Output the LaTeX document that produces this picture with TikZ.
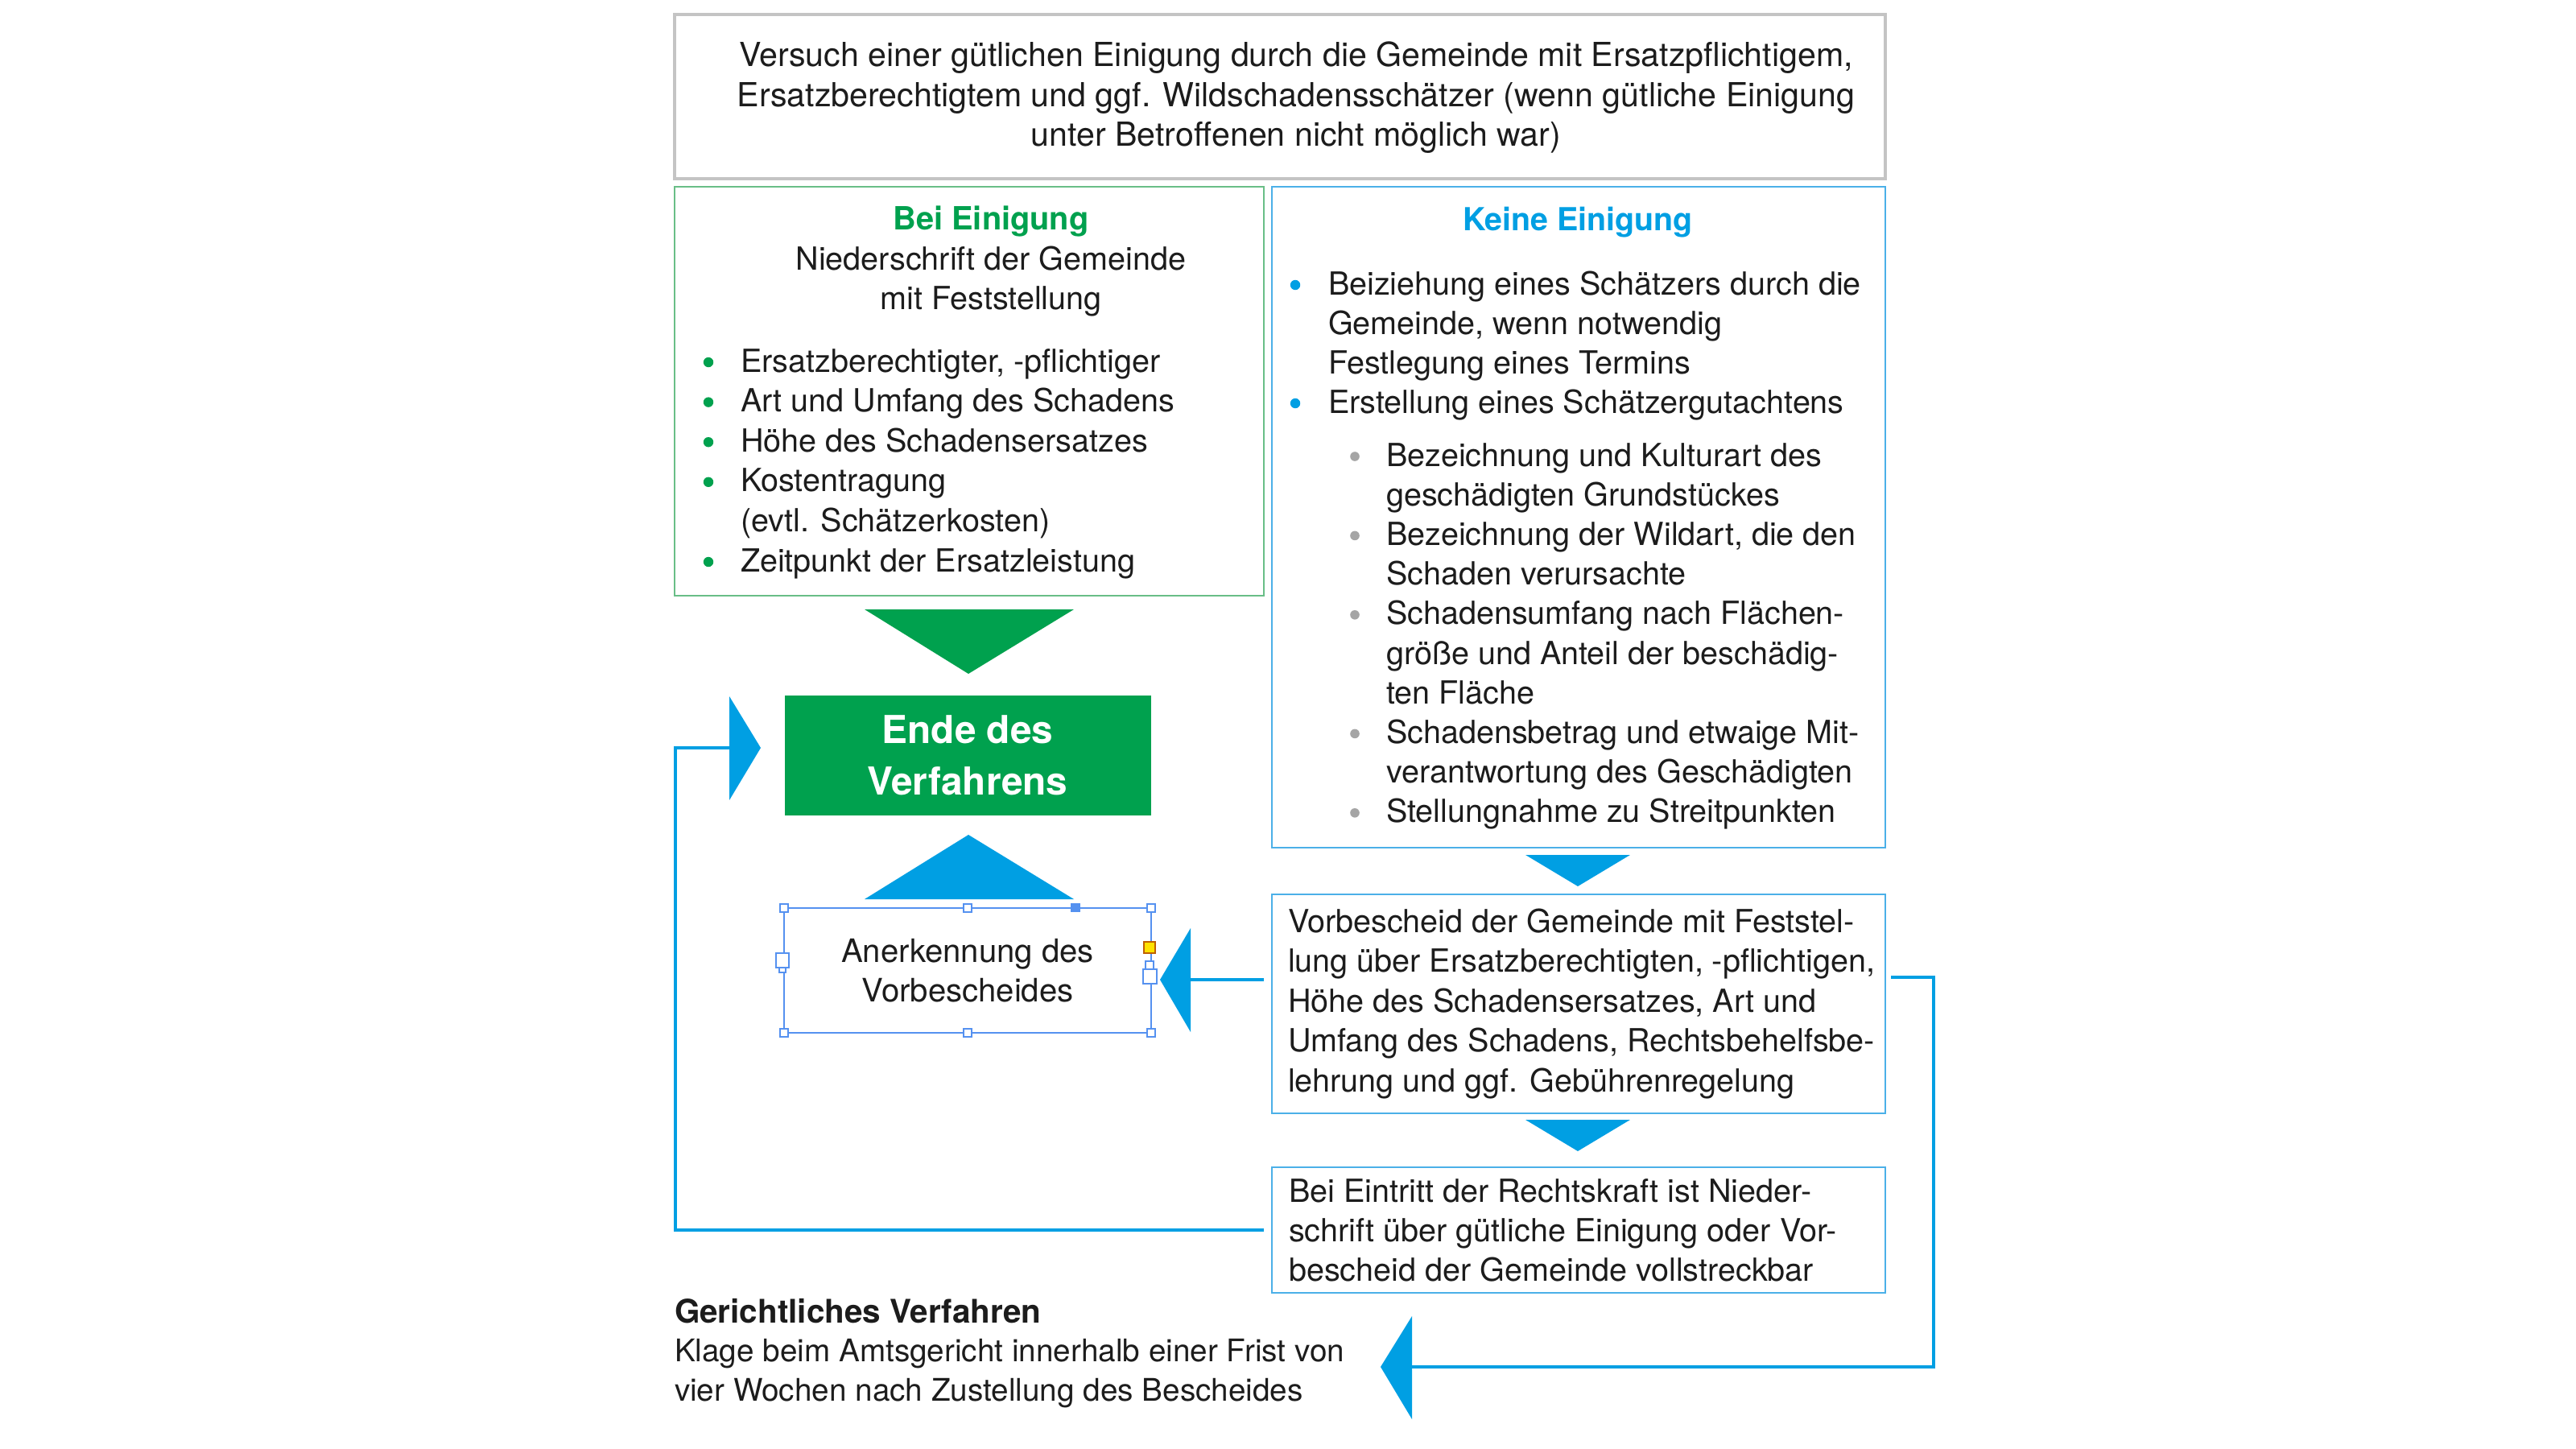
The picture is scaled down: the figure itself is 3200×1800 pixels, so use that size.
\documentclass[tikz,border=0pt]{standalone}
\usepackage{fontspec}
\setmainfont{TeX Gyre Heros}
\usetikzlibrary{fit}
\definecolor{egreen}{RGB}{0,161,78}
\definecolor{eblue}{RGB}{0,159,227}
\definecolor{gborder}{RGB}{105,190,135}
\definecolor{bborder}{RGB}{75,176,232}
\definecolor{grayborder}{RGB}{196,196,196}
\definecolor{bulgray}{RGB}{165,165,165}
\definecolor{textc}{RGB}{28,28,28}
\definecolor{selblue}{RGB}{85,145,240}
\definecolor{handley}{RGB}{255,226,0}
\begin{document}
\begin{tikzpicture}[x=0.01cm,y=-0.01cm,
  txt/.style={font=\fontsize{11.25}{14}\selectfont, text=textc, inner sep=0pt, outer sep=0pt, anchor=base west},
  ctxt/.style={txt, anchor=base},
  toptxt/.style={ctxt, font=\fontsize{11.7}{14}\selectfont},
  gertxt/.style={txt, font=\fontsize{11}{14}\selectfont},
  headg/.style={ctxt, font=\fontsize{11.3}{14}\selectfont\bfseries, text=egreen},
  headb/.style={ctxt, font=\fontsize{11.2}{14}\selectfont\bfseries, text=eblue},
  endetxt/.style={ctxt, font=\fontsize{13.6}{18}\selectfont\bfseries, text=white},
  boxbase/.style={rectangle, inner sep=0pt, outer sep=0pt},
  graybox/.style={boxbase, draw=grayborder, line width=1.1pt},
  greenbox/.style={boxbase, draw=gborder, line width=0.7pt},
  bluebox/.style={boxbase, draw=bborder, line width=0.75pt},
  endebox/.style={boxbase, fill=egreen},
  selbox/.style={boxbase, draw=selblue, line width=0.6pt},
  conn/.style={draw=eblue, line width=1.1pt},
  handle/.style={draw=selblue, fill=white, line width=0.4pt},
  gbul/.style={fill=egreen},
  bbul/.style={fill=eblue},
  sbul/.style={fill=bulgray}]
\useasboundingbox (0,0) rectangle (3200,1800);
\fill[white] (0,0) rectangle (3200,1800);

% ---------- boxes ----------
\node[graybox, fit={(838,18) (2342,222)}] (top) {};
\node[greenbox, fit={(838,232) (1570,740)}] (bei) {};
\node[bluebox, fit={(1580,232) (2342,1053)}] (keine) {};
\node[endebox, fit={(975,864) (1430,1013)}] (ende) {};
\node[selbox, fit={(974,1128) (1430,1283)}] (anerk) {};
\node[bluebox, fit={(1580,1111) (2342,1383)}] (vorb) {};
\node[bluebox, fit={(1580,1450) (2342,1606)}] (eintr) {};

% ---------- top text ----------
\foreach \t [count=\i from 0] in
  {{Versuch einer gütlichen Einigung durch die Gemeinde mit Ersatzpflichtigem,},
   {Ersatzberechtigtem und ggf. Wildschadensschätzer (wenn gütliche Einigung},
   {unter Betroffenen nicht möglich war)}}
  \node[toptxt] (top\i) at (1610,{83+49.2*\i}) {\t};

% ---------- Bei Einigung ----------
\node[headg] (beihead) at (1231,285) {Bei Einigung};
\node[ctxt] (beisub1) at (1231,335) {Niederschrift der Gemeinde};
\node[ctxt] (beisub2) at (1231,384) {mit Feststellung};
\foreach \t [count=\i from 0] in
  {{Ersatzberechtigter, -pflichtiger},
   {Art und Umfang des Schadens},
   {Höhe des Schadensersatzes},
   {Kostentragung},
   {(evtl. Schätzerkosten)},
   {Zeitpunkt der Ersatzleistung}}
  \node[txt] (beil\i) at (920,{462+49.6*\i}) {\t};
\foreach \i in {0,1,2,3,5}
  \fill[gbul] (880,{450+49.6*\i}) circle[radius=0.62mm];

% ---------- Keine Einigung ----------
\node[headb] (keinehead) at (1960,286) {Keine Einigung};
\foreach \t [count=\i from 0] in
  {{Beiziehung eines Schätzers durch die},
   {Gemeinde, wenn notwendig},
   {Festlegung eines Termins},
   {Erstellung eines Schätzergutachtens}}
  \node[txt] (keinel\i) at (1650,{366+49*\i}) {\t};
\foreach \i in {0,3}
  \fill[bbul] (1609,{354+49*\i}) circle[radius=0.62mm];
\foreach \t [count=\i from 0] in
  {{Bezeichnung und Kulturart des},
   {geschädigten Grundstückes},
   {Bezeichnung der Wildart, die den},
   {Schaden verursachte},
   {Schadensumfang nach Flächen-},
   {größe und Anteil der beschädig-},
   {ten Fläche},
   {Schadensbetrag und etwaige Mit-},
   {verantwortung des Geschädigten},
   {Stellungnahme zu Streitpunkten}}
  \node[txt] (keines\i) at (1722,{579+49.2*\i}) {\t};
\foreach \i in {0,2,4,7,9}
  \fill[sbul] (1683,{567+49.2*\i}) circle[radius=0.58mm];

% ---------- Ende / Anerkennung ----------
\node[endetxt] (ende1) at (1202,923) {Ende des};
\node[endetxt] (ende2) at (1202,987) {Verfahrens};
\node[ctxt, font=\fontsize{11.4}{14}\selectfont] (anerk1) at (1202,1195) {Anerkennung des};
\node[ctxt, font=\fontsize{11.4}{14}\selectfont] (anerk2) at (1202,1244) {Vorbescheides};

% selection handles
\foreach \p in {(974,1128),(1202,1128),(1430,1128),(974,1283),(1202,1283),(1430,1283),(1428,1199)}
  \draw[handle] \p ++(-5,-5) rectangle ++(10,10);
\draw[handle] (964,1184) rectangle (980,1202);
\draw[handle] (968,1202) rectangle (976,1208);
\draw[handle] (1420,1204) rectangle (1437,1222);
\fill[selblue] (1330,1122) rectangle (1342,1133);
\draw[draw=orange!75!black, fill=handley, line width=0.4pt] (1421,1170) rectangle (1435,1184);

% ---------- Vorbescheid ----------
\foreach \t [count=\i from 0] in
  {{Vorbescheid der Gemeinde mit Feststel-},
   {lung über Ersatzberechtigten, -pflichtigen,},
   {Höhe des Schadensersatzes, Art und},
   {Umfang des Schadens, Rechtsbehelfsbe-},
   {lehrung und ggf. Gebührenregelung}}
  \node[txt] (vorbl\i) at (1600,{1158+49.5*\i}) {\t};

% ---------- Bei Eintritt ----------
\foreach \t [count=\i from 0] in
  {{Bei Eintritt der Rechtskraft ist Nieder-},
   {schrift über gütliche Einigung oder Vor-},
   {bescheid der Gemeinde vollstreckbar}}
  \node[txt] (eintrl\i) at (1601,{1493+49*\i}) {\t};

% ---------- Gerichtliches Verfahren ----------
\node[txt, font=\fontsize{11.5}{14}\selectfont\bfseries] (gerhead) at (838,1643) {Gerichtliches Verfahren};
\node[gertxt] (ger1) at (838,1691) {Klage beim Amtsgericht innerhalb einer Frist von};
\node[gertxt] (ger2) at (838,1740) {vier Wochen nach Zustellung des Bescheides};

% ---------- arrow heads (triangles) ----------
\fill[egreen] (1074,757) -- (1334,757) -- (1203,837) -- cycle;
\fill[eblue] (1074,1117) -- (1334,1117) -- (1203,1037) -- cycle;
\fill[eblue] (1895,1062) -- (2025,1062) -- (1960,1101) -- cycle;
\fill[eblue] (1895,1391) -- (2025,1391) -- (1960,1430) -- cycle;
\fill[eblue] (906,865) -- (906,994) -- (945,929) -- cycle;
\fill[eblue] (1479,1153) -- (1479,1282) -- (1441,1217) -- cycle;
\fill[eblue] (1754,1635) -- (1754,1763) -- (1715,1698) -- cycle;
\coordinate (triEnde) at (906,929);
\coordinate (triAnerk) at (1479,1217);
\coordinate (triGer) at (1754,1698);
\coordinate (lk) at (839,929);
\coordinate (rk) at (2402,1214);

% ---------- connectors ----------
\draw[conn] ([xshift=-1mm]eintr.west) -| (lk) -- (triEnde);
\draw[conn] ([xshift=-1mm]vorb.west |- triAnerk) -- (triAnerk);
\draw[conn] ([xshift=0.7mm]vorb.east |- rk) -- (rk) |- (triGer);
\end{tikzpicture}
\end{document}
